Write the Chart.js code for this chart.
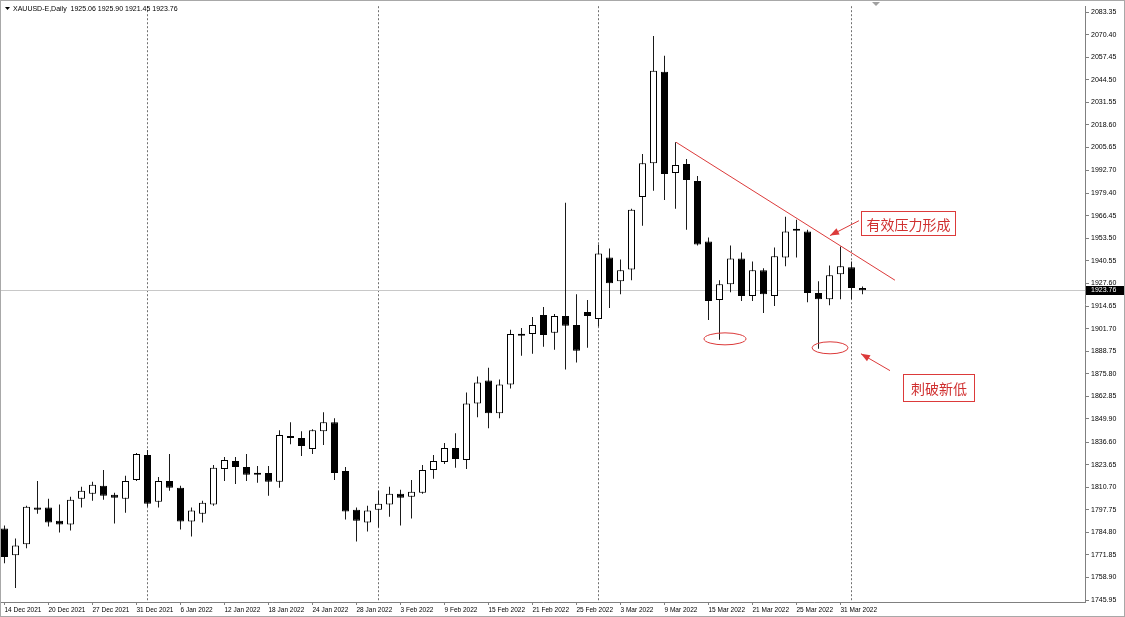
<!DOCTYPE html>
<html>
<head>
<meta charset="utf-8">
<script src="https://cdn.jsdelivr.net/npm/chart.js@4.4.0/dist/chart.umd.min.js"></script>
<style>
  html, body { margin: 0; padding: 0; background: #fff; }
</style>
</head>
<body>
<canvas id="velas" width="1125" height="617"></canvas>
<script>
// Datos diarios XAUUSD
var fechas = [
  '14 Dec 2021','15 Dec 2021','16 Dec 2021','17 Dec 2021','20 Dec 2021','21 Dec 2021','22 Dec 2021','23 Dec 2021',
  '27 Dec 2021','28 Dec 2021','29 Dec 2021','30 Dec 2021','31 Dec 2021',
  '3 Jan 2022','4 Jan 2022','5 Jan 2022','6 Jan 2022','7 Jan 2022','10 Jan 2022','11 Jan 2022','12 Jan 2022',
  '13 Jan 2022','14 Jan 2022','17 Jan 2022','18 Jan 2022','19 Jan 2022','20 Jan 2022','21 Jan 2022','24 Jan 2022',
  '25 Jan 2022','26 Jan 2022','27 Jan 2022','28 Jan 2022','31 Jan 2022',
  '1 Feb 2022','2 Feb 2022','3 Feb 2022','4 Feb 2022','7 Feb 2022','8 Feb 2022','9 Feb 2022','10 Feb 2022',
  '11 Feb 2022','14 Feb 2022','15 Feb 2022','16 Feb 2022','17 Feb 2022','18 Feb 2022','21 Feb 2022','22 Feb 2022',
  '23 Feb 2022','24 Feb 2022','25 Feb 2022','28 Feb 2022',
  '1 Mar 2022','2 Mar 2022','3 Mar 2022','4 Mar 2022','7 Mar 2022','8 Mar 2022','9 Mar 2022','10 Mar 2022',
  '11 Mar 2022','14 Mar 2022','15 Mar 2022','16 Mar 2022','17 Mar 2022','18 Mar 2022','21 Mar 2022','22 Mar 2022',
  '23 Mar 2022','24 Mar 2022','25 Mar 2022','28 Mar 2022','29 Mar 2022','30 Mar 2022','31 Mar 2022',
  '1 Apr 2022','4 Apr 2022'
];
var aperturas = [
  1787.0,1771.6,1777.9,1799.0,1799.0,1791.5,1789.3,1804.1,1806.9,1811.5,1806.4,1804.1,1814.9,
  1829.2,1802.4,1814.3,1810.4,1791.0,1795.5,1800.7,1821.2,1825.7,1822.3,1817.8,1818.9,1813.8,1840.0,1838.9,1832.6,
  1842.8,1848.0,1820.0,1797.8,1790.4,
  1797.8,1800.7,1806.9,1805.2,1807.5,1820.6,1825.2,1833.2,1826.3,1858.8,1871.9,1853.1,1869.6,1898.7,1898.7,1909.5,
  1899.3,1909.0,1903.8,1911.2,
  1907.2,1942.6,1928.9,1935.7,1977.3,1996.7,2049.2,1991.0,1996.2,1986.5,1951.7,1918.1,1927.2,1942.0,1920.4,1935.2,
  1920.4,1942.6,1958.1,1957.4,1922.1,1918.6,1932.9,
  1936.9,1925.06
];
var maximos = [
  1788.7,1781.3,1800.1,1814.3,1804.1,1800.7,1805.2,1810.9,1813.8,1820.6,1807.5,1817.2,1830.3,
  1832.0,1816.6,1829.7,1811.5,1799.0,1802.9,1823.5,1828.0,1828.0,1829.7,1822.9,1822.9,1843.4,1848.0,1842.8,1844.0,
  1853.7,1850.3,1822.3,1799.0,1800.1,
  1808.6,1810.9,1809.2,1814.9,1823.5,1829.2,1836.0,1841.7,1865.1,1874.2,1879.3,1872.5,1901.0,1902.1,1908.4,1914.1,
  1910.1,1973.9,1921.5,1918.1,
  1950.0,1947.7,1941.4,1970.5,2001.9,2069.7,2058.3,2008.7,1999.0,1989.3,1954.0,1929.5,1949.4,1945.4,1940.3,1936.3,
  1948.3,1965.9,1964.2,1958.5,1928.9,1938.0,1948.9,
  1940.3,1925.90
];
var minimos = [
  1767.0,1752.8,1775.6,1795.5,1788.1,1784.7,1785.9,1799.0,1802.9,1803.5,1789.8,1796.1,1814.3,
  1799.5,1799.0,1808.6,1786.4,1782.4,1790.4,1800.0,1814.3,1812.6,1814.3,1813.2,1805.8,1810.4,1835.4,1828.6,1829.7,
  1834.9,1814.9,1792.1,1779.6,1785.3,
  1787.6,1793.8,1788.7,1792.7,1807.0,1815.5,1824.0,1821.8,1821.2,1850.8,1844.6,1850.3,1867.4,1886.2,1887.3,1891.3,
  1889.6,1878.2,1882.2,1890.7,
  1903.0,1913.5,1921.5,1929.5,1960.8,1980.8,1975.6,1970.5,1958.5,1949.4,1906.7,1895.3,1922.6,1917.5,1917.5,1910.7,
  1914.7,1937.5,1942.6,1916.9,1890.1,1915.2,1918.6,
  1918.6,1921.45
];
var cierres = [
  1770.7,1777.3,1799.5,1797.8,1790.4,1789.3,1803.5,1808.6,1812.1,1805.8,1804.7,1814.3,1829.7,
  1801.2,1814.3,1810.4,1791.0,1797.3,1801.8,1821.8,1826.3,1822.3,1817.8,1819.0,1813.8,1840.6,1838.9,1834.3,1843.4,
  1848.0,1818.9,1796.7,1791.5,1797.3,
  1801.2,1806.9,1804.7,1808.1,1820.6,1825.7,1833.2,1826.9,1858.8,1870.8,1853.1,1869.6,1898.7,1897.6,1903.8,1898.1,
  1909.0,1903.3,1889.0,1909.0,
  1944.9,1927.8,1935.2,1969.9,1996.7,2049.7,1990.5,1995.6,1987.0,1950.0,1917.5,1927.2,1942.0,1920.4,1935.2,1921.5,
  1943.2,1957.4,1957.9,1922.1,1918.6,1932.3,1937.5,
  1925.0,1923.76
];
var etiquetasIdx = [0,4,8,12,16,20,24,28,32,36,40,44,48,52,56,60,64,68,72,76];
var ticksPrecio = [1745.95,1758.90,1771.85,1784.80,1797.75,1810.70,1823.65,1836.60,1849.90,1862.85,1875.80,1888.75,
  1901.70,1914.65,1927.60,1940.55,1953.50,1966.45,1979.40,1992.70,2005.65,2018.60,2031.55,2044.50,2057.45,2070.40,2083.35];
var separadores = [13, 34, 54, 77];
var tendenciaX = [61.05, 80.95];
var tendenciaY = [2008.7, 1929.5];
var simbolo = 'XAUUSD-E,Daily';

var n = fechas.length;
var ultimo = cierres[n - 1];
var rojo = '#dc3a3a';

var fuente = 'Liberation Sans, Arial, sans-serif';

var anotaciones = {
  id: 'anotaciones',
  beforeDraw: function(chart) {
    var c = chart.ctx;
    c.save();
    c.fillStyle = '#fff';
    c.fillRect(0, 0, chart.width, chart.height);
    c.restore();
  },
  beforeDatasetsDraw: function(chart) {
    var c = chart.ctx, a = chart.chartArea, xs = chart.scales.x, ys = chart.scales.y;
    c.save();
    // separadores de periodo
    c.strokeStyle = '#707070';
    c.lineWidth = 1;
    c.setLineDash([2, 2]);
    separadores.forEach(function(i) {
      var px = Math.floor(xs.getPixelForValue(i)) + 0.5;
      c.beginPath(); c.moveTo(px, a.top); c.lineTo(px, a.bottom); c.stroke();
    });
    // linea del precio actual
    c.setLineDash([]);
    c.strokeStyle = '#c8c8c8';
    var py = Math.round(ys.getPixelForValue(ultimo)) + 0.5;
    c.beginPath(); c.moveTo(a.left, py); c.lineTo(a.right, py); c.stroke();
    c.restore();
  },
  afterDatasetsDraw: function(chart) {
    var c = chart.ctx, xs = chart.scales.x, ys = chart.scales.y;
    function P(i, p) { return [xs.getPixelForValue(i), ys.getPixelForValue(p)]; }
    c.save();
    c.strokeStyle = rojo;
    c.fillStyle = rojo;
    c.lineWidth = 1;
    // elipses
    [[65.5, 1895.84, 21, 6], [75.05, 1890.71, 18, 6]].forEach(function(e) {
      var q = P(e[0], e[1]);
      c.beginPath(); c.ellipse(q[0], q[1], e[2], e[3], 0, 0, Math.PI * 2); c.stroke();
    });
    // flechas
    function flecha(a, b) {
      var dx = b[0] - a[0], dy = b[1] - a[1], ang = Math.atan2(dy, dx);
      c.beginPath(); c.moveTo(a[0], a[1]); c.lineTo(b[0], b[1]); c.stroke();
      c.beginPath();
      c.moveTo(b[0], b[1]);
      c.lineTo(b[0] - 9 * Math.cos(ang) + 3.5 * Math.sin(ang), b[1] - 9 * Math.sin(ang) - 3.5 * Math.cos(ang));
      c.lineTo(b[0] - 9 * Math.cos(ang) - 3.5 * Math.sin(ang), b[1] - 9 * Math.sin(ang) + 3.5 * Math.cos(ang));
      c.closePath(); c.fill();
    }
    flecha(P(77.68, 1963.66), P(75.05, 1955.12));
    flecha(P(80.5, 1877.6), P(77.86, 1887.29));
    // cajas de texto
    function caja(i, p, w, h, txt) {
      var q = P(i, p);
      var x = Math.round(q[0]) + 0.5, y = Math.round(q[1]) + 0.5;
      c.fillStyle = '#fff';
      c.fillRect(x, y, w, h);
      c.strokeStyle = rojo;
      c.strokeRect(x, y, w, h);
      c.fillStyle = '#d03030';
      c.font = '14px "Noto Sans CJK SC"';
      c.textAlign = 'center';
      c.textBaseline = 'middle';
      c.fillText(txt, x + w / 2, y + h / 2 + 1);
    }
    caja(77.86, 1969.36, 94, 24, '有效压力形成');
    caja(81.68, 1875.9, 71, 27, '刺破新低');
    // cabecera
    c.fillStyle = '#000';
    c.beginPath(); c.moveTo(5, 7); c.lineTo(10, 7); c.lineTo(7.5, 10); c.closePath(); c.fill();
    c.font = '7px ' + fuente;
    c.textAlign = 'left';
    c.textBaseline = 'alphabetic';
    var ohlc = [aperturas[n - 1], maximos[n - 1], minimos[n - 1], cierres[n - 1]].map(function(v) { return v.toFixed(2); });
    c.fillText(simbolo + '  ' + ohlc.join(' '), 13, 11);
    // marcador de desplazamiento
    c.fillStyle = '#a0a0a0';
    c.beginPath(); c.moveTo(872, 2); c.lineTo(880, 2); c.lineTo(876, 6); c.closePath(); c.fill();
    c.restore();
  },
  afterDraw: function(chart) {
    var c = chart.ctx, a = chart.chartArea, ys = chart.scales.y;
    c.save();
    var py = Math.round(ys.getPixelForValue(ultimo));
    c.fillStyle = '#000';
    c.fillRect(a.right + 1, py - 4, chart.width - a.right - 2, 9);
    c.fillStyle = '#fff';
    c.font = '7px ' + fuente;
    c.textBaseline = 'middle';
    c.fillText(ultimo.toFixed(2), a.right + 6, py + 0.5);
    // marco
    c.strokeStyle = '#a8a8a8';
    c.strokeRect(0.5, 0.5, chart.width - 1, chart.height - 1);
    c.restore();
  }
};

var ctx = document.getElementById('velas').getContext('2d');
var alcista = cierres.map(function(v, i) { return v >= aperturas[i]; });

var grafico = new Chart(ctx, {
  type: 'bar',
  data: {
    datasets: [
      {
        type: 'line',
        label: 'tendencia',
        data: tendenciaX.map(function(x, i) { return { x: x, y: tendenciaY[i] }; }),
        borderColor: rojo,
        borderWidth: 1,
        pointRadius: 0,
        order: 0
      },
      {
        label: 'cuerpos',
        data: fechas.map(function(f, i) { return { x: i, y: [aperturas[i], cierres[i]] }; }),
        backgroundColor: alcista.map(function(u) { return u ? '#fff' : '#000'; }),
        borderColor: '#000',
        borderWidth: 1,
        borderSkipped: false,
        inflateAmount: 0,
        barThickness: 7,
        maxBarThickness: 7,
        minBarLength: 2,
        grouped: false,
        order: 1
      },
      {
        label: 'mechas',
        data: fechas.map(function(f, i) { return { x: i, y: [minimos[i], maximos[i]] }; }),
        backgroundColor: '#1a1a1a',
        borderWidth: 0,
        inflateAmount: 0,
        barThickness: 1,
        maxBarThickness: 1,
        grouped: false,
        order: 2
      }
    ]
  },
  options: {
    responsive: false,
    animation: false,
    events: [],
    layout: { padding: { top: 2, left: 1, right: 0, bottom: 0 } },
    plugins: { legend: { display: false }, tooltip: { enabled: false } },
    scales: {
      x: {
        type: 'linear',
        offset: false,
        min: -0.31818,
        max: 98.22727,
        afterBuildTicks: function(s) { s.ticks = etiquetasIdx.map(function(v) { return { value: v }; }); },
        afterFit: function(s) { s.height = 15; },
        ticks: {
          autoSkip: false, maxRotation: 0, minRotation: 0, align: 'start', padding: 1,
          color: '#000', font: { family: fuente, size: 6.5 },
          callback: function(v) { return fechas[v]; }
        },
        grid: { offset: false, drawOnChartArea: false, tickLength: 3, color: '#808080' },
        border: { color: '#808080' }
      },
      y: {
        position: 'right',
        min: 1744.81,
        max: 2086.77,
        afterBuildTicks: function(s) { s.ticks = ticksPrecio.map(function(v) { return { value: v }; }); },
        afterFit: function(s) { s.width = 40; },
        ticks: {
          padding: 2, color: '#000', font: { family: fuente, size: 7 },
          callback: function(v) { return v.toFixed(2); }
        },
        grid: { drawOnChartArea: false, tickLength: 4, color: '#808080' },
        border: { color: '#808080' }
      }
    }
  },
  plugins: [anotaciones]
});
</script>
</body>
</html>
